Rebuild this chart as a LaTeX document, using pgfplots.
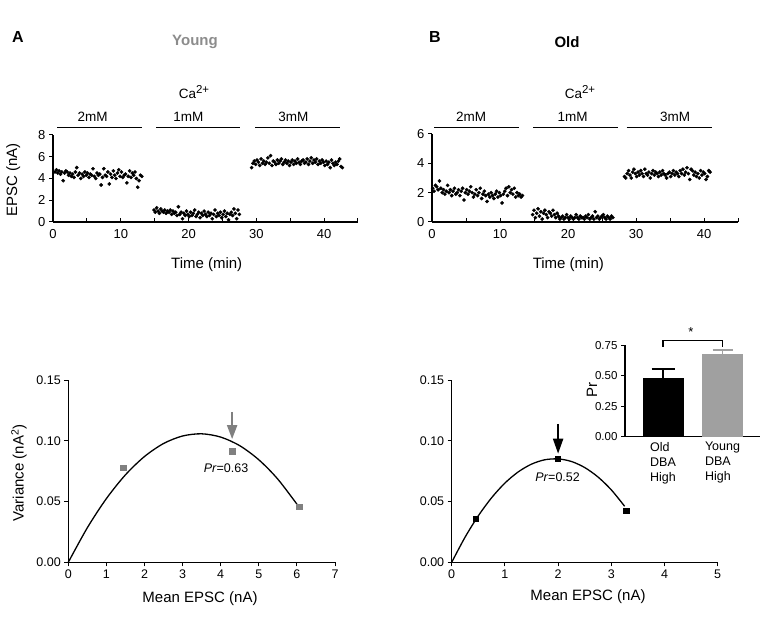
\documentclass[border=0pt]{standalone}
\usepackage{fontspec}
\setmainfont{Liberation Sans}
\usepackage{pgfplots}
\pgfplotsset{compat=1.18}
\usetikzlibrary{arrows.meta}
\definecolor{dgray}{RGB}{128,128,128}
\definecolor{tgray}{RGB}{140,140,140}
\definecolor{lgray}{RGB}{160,160,160}
\newcommand{\fs}[1]{\fontsize{#1}{#1}\selectfont}
\pgfplotsset{
  myaxis/.style={
    scale only axis, axis lines=left, axis line style={-, line width=1.2pt},
    enlargelimits=false, clip=false, anchor=south west,
    tick style={line width=1pt, black},
    major tick length=4pt,
    /pgf/number format/assume math mode=true,
    tick label style={font=\fs{13}},
  },
  dots/.style={only marks, mark=*, mark size=1.65pt, black},
  twodec/.style={yticklabel style={/pgf/number format/.cd, fixed, fixed zerofill, precision=2}},
}
\begin{document}
\begin{tikzpicture}
\path[use as bounding box] (0pt,0pt) rectangle (777pt,621pt);

% ---------- Top A ----------
\begin{axis}[myaxis, at={(53pt,399pt)}, width=305pt, height=87pt,
  xmin=0, xmax=45, ymin=0, ymax=8,
  xtick={0,5,...,45}, xticklabels={0,,10,,20,,30,,40,},
  ytick={0,2,4,6,8},
  tick align=outside, x tick style={yshift=4pt}]
\addplot[dots] coordinates {
(0.3,4.6)(0.5,4.8)(0.7,4.5)(0.9,4.7)(1.1,4.4)(1.3,4.6)(1.5,3.8)(1.7,4.5)(1.9,4.7)(2.1,4.6)
(2.3,4.3)(2.5,4.5)(2.7,4.2)(2.9,4.4)(3.1,4.1)(3.3,4.6)(3.5,5.0)(3.7,4.3)(3.9,4.5)(4.1,4.0)
(4.3,4.4)(4.5,4.2)(4.7,4.6)(4.9,4.3)(5.1,4.5)(5.3,4.1)(5.5,4.4)(5.7,4.3)(5.9,4.9)(6.1,4.2)
(6.3,4.0)(6.5,4.5)(6.7,4.3)(6.9,4.4)(7.1,3.4)(7.3,4.1)(7.5,4.9)(7.7,4.3)(7.9,4.2)(8.1,4.6)
(8.3,3.5)(8.5,4.4)(8.7,4.1)(8.9,4.7)(9.1,4.3)(9.3,4.0)(9.5,4.5)(9.7,4.8)(9.9,4.2)(10.1,4.6)
(10.3,4.1)(10.5,4.3)(10.7,4.4)(10.9,3.6)(11.1,4.2)(11.3,4.7)(11.5,4.1)(11.7,4.5)(11.9,4.3)(12.1,4.6)
(12.3,4.0)(12.5,3.2)(12.7,3.8)(12.9,4.3)(13.1,4.2)
};
\addplot[dots] coordinates {
(14.9,1.1)(15.1,0.9)(15.3,1.3)(15.5,1.0)(15.7,0.8)(15.9,1.2)(16.1,1.0)(16.3,0.9)(16.5,1.1)(16.7,0.8)
(16.9,1.0)(17.1,0.9)(17.3,1.1)(17.5,0.7)(17.7,1.0)(17.9,0.8)(18.1,0.9)(18.3,0.6)(18.5,1.4)(18.7,0.7)
(18.9,0.9)(19.1,0.3)(19.3,0.8)(19.5,0.6)(19.7,1.0)(19.9,0.7)(20.1,0.5)(20.3,0.9)(20.5,0.6)(20.7,0.8)
(20.9,1.1)(21.1,0.5)(21.3,0.7)(21.5,0.9)(21.7,0.4)(21.9,0.8)(22.1,0.6)(22.3,1.0)(22.5,0.7)(22.7,0.5)
(22.9,0.9)(23.1,0.6)(23.3,0.8)(23.5,0.3)(23.7,0.7)(23.9,1.1)(24.1,0.5)(24.3,0.8)(24.5,0.6)(24.7,0.9)
(24.9,0.4)(25.1,0.7)(25.3,1.0)(25.5,0.5)(25.7,0.8)(25.9,0.2)(26.1,0.7)(26.3,0.9)(26.5,0.6)(26.7,1.2)
(26.9,0.8)(27.1,0.3)(27.3,1.1)(27.5,0.7)
};
\addplot[dots] coordinates {
(29.3,5.0)(29.5,5.4)(29.7,5.6)(29.9,5.3)(30.1,5.7)(30.3,5.5)(30.5,5.2)(30.7,5.8)(30.9,5.4)(31.1,5.6)
(31.3,5.3)(31.5,5.5)(31.7,5.9)(31.9,5.4)(32.1,6.1)(32.3,5.2)(32.5,5.6)(32.7,5.5)(32.9,5.3)(33.1,5.7)
(33.3,5.4)(33.5,5.6)(33.7,5.8)(33.9,5.3)(34.1,5.5)(34.3,5.7)(34.5,5.4)(34.7,5.6)(34.9,5.2)(35.1,5.5)
(35.3,5.7)(35.5,5.3)(35.7,5.6)(35.9,5.4)(36.1,5.8)(36.3,5.5)(36.5,5.3)(36.7,5.6)(36.9,5.7)(37.1,5.4)
(37.3,5.5)(37.5,5.8)(37.7,5.3)(37.9,5.6)(38.1,5.9)(38.3,5.4)(38.5,5.7)(38.7,5.5)(38.9,5.8)(39.1,5.3)
(39.3,5.6)(39.5,5.4)(39.7,5.7)(39.9,5.5)(40.1,5.2)(40.3,5.6)(40.5,5.3)(40.7,5.5)(40.9,5.0)(41.1,5.7)
(41.3,5.4)(41.5,5.2)(41.7,5.5)(41.9,5.3)(42.1,5.6)(42.3,5.8)(42.5,5.1)(42.7,5.0)
};
\end{axis}

% ---------- Top B ----------
\begin{axis}[myaxis, at={(432pt,399pt)}, width=306pt, height=88pt,
  xmin=0, xmax=45, ymin=0, ymax=6,
  xtick={0,5,...,45}, xticklabels={0,,10,,20,,30,,40,},
  ytick={0,2,4,6},
  tick align=outside, x tick style={yshift=4pt}]
\addplot[dots] coordinates {
(0.1,2.3)(0.3,2.1)(0.5,2.5)(0.7,2.4)(0.9,2.2)(1.1,2.8)(1.3,2.3)(1.5,2.0)(1.7,2.2)(1.9,1.9)
(2.1,2.1)(2.3,2.5)(2.5,2.0)(2.7,2.2)(2.9,1.8)(3.1,2.1)(3.3,2.3)(3.5,1.9)(3.7,2.0)(3.9,2.2)
(4.1,1.8)(4.3,2.1)(4.5,2.3)(4.7,1.5)(4.9,2.0)(5.1,2.2)(5.3,1.9)(5.5,2.1)(5.7,2.4)(5.9,2.0)
(6.1,1.7)(6.3,1.9)(6.5,2.2)(6.7,1.8)(6.9,2.0)(7.1,2.3)(7.3,1.6)(7.5,1.9)(7.7,2.1)(7.9,1.8)
(8.1,1.4)(8.3,1.9)(8.5,1.7)(8.7,2.0)(8.9,1.8)(9.1,1.6)(9.3,1.9)(9.5,2.1)(9.7,1.7)(9.9,2.0)
(10.1,1.8)(10.3,1.3)(10.5,1.9)(10.7,2.1)(10.9,2.3)(11.1,1.8)(11.3,2.4)(11.5,2.0)(11.7,2.2)(11.9,1.9)
(12.1,2.3)(12.3,1.7)(12.5,2.0)(12.7,1.8)(12.9,1.9)(13.1,1.7)(13.3,1.8)
};
\addplot[dots] coordinates {
(14.8,0.5)(15.0,0.8)(15.2,0.3)(15.4,0.6)(15.6,0.9)(15.8,0.4)(16.0,0.7)(16.2,0.2)(16.4,0.6)(16.6,0.8)
(16.8,0.5)(17.0,0.3)(17.2,0.7)(17.4,0.6)(17.6,0.4)(17.8,0.8)(18.0,0.5)(18.2,0.3)(18.4,0.6)(18.6,0.4)
(18.8,0.2)(19.0,0.3)(19.2,0.4)(19.4,0.2)(19.6,0.3)(19.8,0.5)(20.0,0.3)(20.2,0.2)(20.4,0.4)(20.6,0.3)
(20.8,0.2)(21.0,0.3)(21.2,0.5)(21.4,0.3)(21.6,0.2)(21.8,0.4)(22.0,0.3)(22.2,0.3)(22.4,0.2)(22.6,0.4)
(22.8,0.3)(23.0,0.5)(23.2,0.2)(23.4,0.3)(23.6,0.4)(23.8,0.2)(24.0,0.7)(24.2,0.3)(24.4,0.4)(24.6,0.2)
(24.8,0.3)(25.0,0.4)(25.2,0.5)(25.4,0.3)(25.6,0.2)(25.8,0.4)(26.0,0.3)(26.2,0.2)(26.4,0.4)(26.6,0.3)
};
\addplot[dots] coordinates {
(28.3,3.1)(28.5,3.0)(28.7,3.3)(28.9,3.5)(29.1,3.2)(29.3,3.0)(29.5,3.4)(29.7,3.6)(29.9,3.3)(30.1,3.1)
(30.3,3.4)(30.5,3.2)(30.7,3.5)(30.9,3.3)(31.1,3.1)(31.3,3.6)(31.5,3.3)(31.7,3.2)(31.9,3.4)(32.1,3.0)
(32.3,3.3)(32.5,3.5)(32.7,3.2)(32.9,3.4)(33.1,3.3)(33.3,3.1)(33.5,3.4)(33.7,3.2)(33.9,3.5)(34.1,3.3)
(34.3,3.2)(34.5,3.0)(34.7,3.3)(34.9,3.4)(35.1,3.1)(35.3,3.3)(35.5,3.5)(35.7,3.2)(35.9,3.4)(36.1,3.3)
(36.3,3.1)(36.5,3.5)(36.7,3.3)(36.9,3.6)(37.1,3.2)(37.3,3.4)(37.5,3.7)(37.7,3.3)(37.9,2.9)(38.1,3.6)
(38.3,3.5)(38.5,3.2)(38.7,3.4)(38.9,3.1)(39.1,3.3)(39.3,3.0)(39.5,3.5)(39.7,3.2)(39.9,3.4)(40.1,3.3)
(40.3,2.9)(40.5,3.1)(40.7,3.5)(40.9,3.4)
};
\end{axis}

% ---------- Bottom A ----------
\begin{axis}[myaxis, twodec, at={(68.3pt,58.7pt)}, width=266.7pt, height=182pt,
  xmin=0, xmax=7, ymin=0, ymax=0.15,
  xtick={0,1,...,7}, ytick={0,0.05,0.10,0.15},
  tick align=outside, tick label style={font=\fs{12.5}}]
\addplot[smooth, black, line width=1.3pt] coordinates {
(0,0)(0.5,0.0285)(1,0.0525)(1.5,0.0721)(2,0.0872)(2.5,0.0979)(3,0.1041)(3.5,0.1059)(4,0.1032)(4.5,0.0961)(5,0.0845)(5.5,0.0685)(6.05,0.0458)};
\addplot[only marks, mark=square*, mark size=2.8pt, dgray] coordinates {(1.44,0.078)(4.30,0.0915)(6.06,0.0458)};
\addplot[dgray, line width=2pt, -{Triangle[width=10pt,length=14pt]}] coordinates {(4.3,0.124)(4.3,0.1015)};
\node[font=\fs{12.5}] at (axis cs:4.14,0.0775) {\textit{Pr}=0.63};
\end{axis}

% ---------- Bottom B ----------
\begin{axis}[myaxis, twodec, at={(451.7pt,58.7pt)}, width=266pt, height=182pt,
  xmin=0, xmax=5, ymin=0, ymax=0.15,
  xtick={0,1,...,5}, ytick={0,0.05,0.10,0.15},
  tick align=outside, tick label style={font=\fs{12.5}}]
\addplot[smooth, black, line width=1.3pt] coordinates {
(0,0)(0.25,0.0206)(0.5,0.0383)(0.75,0.0532)(1,0.0653)(1.25,0.0745)(1.5,0.0809)(1.75,0.0845)(2,0.0852)(2.25,0.0831)(2.5,0.0781)(2.75,0.0703)(3,0.0597)(3.25,0.0462)};
\addplot[only marks, mark=square*, mark size=2.6pt, black] coordinates {(0.45,0.0357)(1.99,0.0857)(3.28,0.0425)};
\addplot[black, line width=2pt, -{Triangle[width=10pt,length=15pt]}] coordinates {(2.0,0.114)(2.0,0.0895)};
\node[font=\fs{12.5}] at (axis cs:1.99,0.070) {\textit{Pr}=0.52};
\end{axis}

% ---------- Inset ----------
\begin{axis}[myaxis, twodec, at={(625pt,184.5pt)}, width=135pt, height=91pt,
  xmin=0.361, xmax=2.63, ymin=0, ymax=0.75,
  xtick=\empty, ytick={0,0.25,0.50,0.75},
  tick align=outside, tick label style={font=\fs{11.5}}]
\addplot[ybar, bar shift=0pt, bar width=40pt, fill=black, draw=black,
  error bars/.cd, y dir=plus, y explicit,
  error bar style={black, line width=1.3pt},
  error mark options={rotate=90, mark size=11.5pt, line width=1.3pt, black}]
  coordinates {(1,0.48) +- (0,0.076)};
\addplot[ybar, bar shift=0pt, bar width=40pt, fill=lgray, draw=lgray,
  error bars/.cd, y dir=plus, y explicit,
  error bar style={lgray, line width=1.3pt},
  error mark options={rotate=90, mark size=10pt, line width=1.3pt, lgray}]
  coordinates {(2,0.678) +- (0,0.035)};
\addplot[black, line width=1.2pt] coordinates {(1,0.74)(1,0.79)(2,0.79)(2,0.74)};
\node[font=\fs{13}] at (axis cs:1.47,0.86) {*};
\node[anchor=north, align=left, font=\fontsize{12.5}{15}\selectfont, yshift=-2pt] at (axis cs:1,0) {Old\\DBA\\High};
\node[anchor=north, align=left, font=\fontsize{12.5}{15}\selectfont, yshift=-2pt] at (axis cs:2,0) {Young\\DBA\\High};
\end{axis}

% ---------- Annotations ----------
\node[font=\bfseries\fs{16}] at (18pt,584pt) {A};
\node[font=\bfseries\fs{15}, text=tgray] at (195pt,579pt) {Young};
\node[font=\bfseries\fs{16}] at (435pt,584pt) {B};
\node[font=\bfseries\fs{15}] at (567pt,579pt) {Old};
\node[font=\fs{13.5}] at (194pt,529pt) {Ca\raisebox{5pt}{\fs{11.5}2+}};
\node[font=\fs{13.5}] at (580pt,529pt) {Ca\raisebox{5pt}{\fs{11.5}2+}};
\foreach \x/\t in {92.7/2mM,188.3/1mM,293.3/3mM,471/2mM,572.7/1mM,675/3mM}
  \node[font=\fs{13.5}] at (\x pt,504.3pt) {\t};
\foreach \a/\b in {57.3/141.7,156/240,255/340,434.3/519,533.3/617.7,626.7/711.7}
  \draw[line width=1.4pt] (\a pt,493.7pt) -- (\b pt,493.7pt);
\node[font=\fs{15}] at (206.7pt,356pt) {Time (min)};
\node[font=\fs{15}] at (568.3pt,356pt) {Time (min)};
\node[font=\fs{15}, rotate=90] at (13.3pt,441pt) {EPSC (nA)};
\node[font=\fs{15}, rotate=90] at (19pt,148pt) {Variance (nA\textsuperscript{2})};
\node[font=\fs{15}] at (200pt,22.7pt) {Mean EPSC (nA)};
\node[font=\fs{15}] at (588pt,24.3pt) {Mean EPSC (nA)};
\node[font=\fs{15}, rotate=90] at (592pt,231pt) {Pr};
\end{tikzpicture}
\end{document}
